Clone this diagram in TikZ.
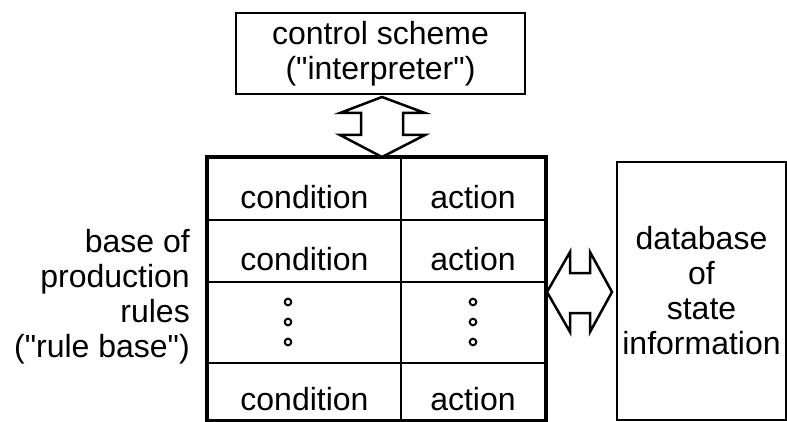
\documentclass[tikz,border=0pt]{standalone}
\usepackage{fontspec}
\setmainfont{Liberation Sans}[Ligatures=TeXOff]

\tikzset{
  box/.style={draw, line width=2.5pt, inner sep=0pt, align=center},
  cell/.style={draw, line width=1.5pt, inner sep=0pt, text height=38pt, text depth=0pt},
  dot/.style={line width=2pt},
  fatarrow/.style={draw, fill=white, line width=2.5pt, line join=miter},
}

\begin{document}
\begin{tikzpicture}[x=1pt, y=-1pt, font=\fontsize{32}{35}\selectfont]
                    \useasboundingbox (0,0) rectangle (787,422);

                    % control scheme
                    \node[box, minimum width=289pt, minimum height=81pt] (ctrl) at (380.5,53.5)
                         {control scheme\\("interpreter")};

                    % rule base
                    \node[cell, minimum width=193pt, minimum height=62pt] (c1) at (304.5,189) {condition};
                    \node[cell, minimum width=193pt, minimum height=62pt] (c2) at (304.5,251) {condition};
                    \node[cell, minimum width=193pt, minimum height=81pt] (c3) at (304.5,322.5) {};
                    \node[cell, minimum width=193pt, minimum height=57pt] (c4) at (304.5,391.5) {condition};
                    \node[cell, minimum width=144pt, minimum height=62pt] (a1) at (473,189) {action};
                    \node[cell, minimum width=144pt, minimum height=62pt] (a2) at (473,251) {action};
                    \node[cell, minimum width=144pt, minimum height=81pt] (a3) at (473,322.5) {};
                    \node[cell, minimum width=144pt, minimum height=57pt] (a4) at (473,391.5) {action};
                    \draw[line width=4pt] (c1.north west) rectangle (a4.south east);

                    \foreach \y in {302,322,342} {
                        \draw[dot] (288,\y) circle (3.3pt);
                        \draw[dot] (473,\y) circle (3.3pt);
                    }

                    \node[inner sep=0pt, align=right, anchor=east] (lbl) at (190,296.5)
                         {base of\\production\\rules\\("rule base")};

                    % database
                    \node[box, line width=2pt, minimum width=169pt, minimum height=258pt] (db) at (701.5,291)
                         {database\\of\\state\\information};

                    % double arrows
                    \coordinate (vtip) at (382,97);
                    \coordinate (htip) at (547,292);
                    \draw[fatarrow] (vtip) -- ++(43,16) -- ++(-22,0) -- ++(0,22) -- ++(22,0)
                         -- ++(-43,22) -- ++(-42,-22) -- ++(21,0) -- ++(0,-22) -- ++(-21,0) -- cycle;
                    \draw[fatarrow] (htip) -- ++(23,-40) -- ++(0,21) -- ++(20,0) -- ++(0,-21)
                         -- ++(22,40) -- ++(-22,40) -- ++(0,-19) -- ++(-20,0) -- ++(0,19) -- cycle;
                \end{tikzpicture}
\end{document}
